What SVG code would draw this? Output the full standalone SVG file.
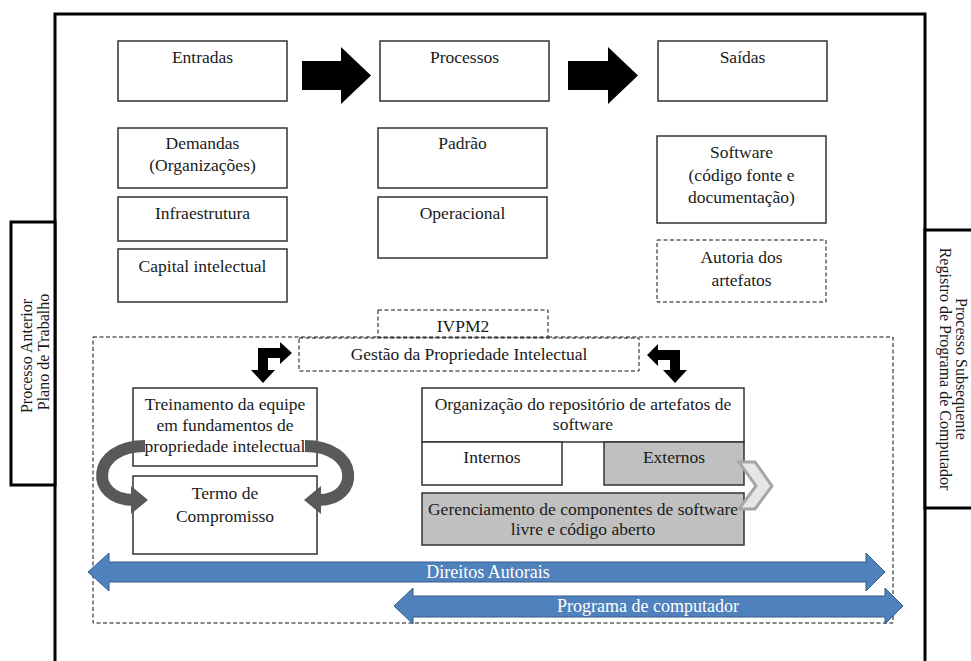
<svg xmlns="http://www.w3.org/2000/svg" width="971" height="661" viewBox="0 0 971 661">
<style>
  .box { fill: #ffffff; stroke: #333333; stroke-width: 1.5; }
  .gbox { fill: #c0c0c0; stroke: #333333; stroke-width: 1.5; }
  .dash { fill: #ffffff; stroke: #111111; stroke-width: 1; stroke-dasharray: 4 2.5; }
  .frame { fill: none; stroke: #000000; stroke-width: 3; }
  .side { fill: #ffffff; stroke: #000000; stroke-width: 3; }
  .t { font-family: "Liberation Serif", "Times New Roman", serif; font-size: 17.5px; fill: #1a1a1a; text-anchor: middle; }
  .v { font-family: "Liberation Serif", "Times New Roman", serif; font-size: 16px; fill: #1a1a1a; text-anchor: middle; }
  .w { font-family: "Liberation Serif", "Times New Roman", serif; font-size: 18px; fill: #ffffff; text-anchor: middle; }
  .blk { fill: #000000; }
  .blue { fill: #4f81bd; stroke: #385d8a; stroke-width: 1; }
  .curve { fill: none; stroke: #595959; stroke-width: 12; }
  .curvehead { fill: #595959; }
  .chev { fill: #e6e6e6; stroke: #a6a6a6; stroke-width: 3; }
</style>

<!-- outer frame -->
<g id="frame">
  <path class="frame" d="M55 664 L55 14 L925 14 L925 664"/>
</g>

<g id="processo-anterior">
  <rect class="side" x="11" y="222" width="44" height="263"/>
  <text class="v" x="32" y="356" transform="rotate(-90 32 356)">Processo Anterior</text>
  <text class="v" x="49" y="352" transform="rotate(-90 49 352)">Plano de Trabalho</text>
</g>

<g id="processo-subsequente">
  <rect class="side" x="925" y="230" width="52" height="278"/>
  <text class="v" x="956" y="369" transform="rotate(90 956 369)">Processo Subsequente</text>
  <text class="v" x="940" y="369" transform="rotate(90 940 369)">Registro de Programa de Computador</text>
</g>

<!-- top row -->
<g id="entradas">
  <rect class="box" x="118" y="41" width="169" height="60"/>
  <text class="t" x="202.5" y="63">Entradas</text>
</g>
<g id="processos">
  <rect class="box" x="380" y="41" width="169" height="60"/>
  <text class="t" x="464.5" y="63">Processos</text>
</g>
<g id="saidas">
  <rect class="box" x="658" y="41" width="169" height="60"/>
  <text class="t" x="742.5" y="63">Saídas</text>
</g>

<g id="demandas">
  <rect class="box" x="118" y="128" width="169" height="60"/>
  <text class="t" x="202.5" y="149">Demandas</text>
  <text class="t" x="202.5" y="171">(Organizações)</text>
</g>
<g id="infraestrutura">
  <rect class="box" x="118" y="197" width="169" height="44"/>
  <text class="t" x="202.5" y="219">Infraestrutura</text>
</g>
<g id="capital-intelectual">
  <rect class="box" x="118" y="249" width="169" height="53"/>
  <text class="t" x="202.5" y="272">Capital intelectual</text>
</g>

<g id="padrao">
  <rect class="box" x="378" y="128" width="169" height="60"/>
  <text class="t" x="462.5" y="149">Padrão</text>
</g>
<g id="operacional">
  <rect class="box" x="378" y="197" width="169" height="61"/>
  <text class="t" x="462.5" y="219">Operacional</text>
</g>

<g id="software">
  <rect class="box" x="657" y="136" width="169" height="87"/>
  <text class="t" x="741.5" y="158">Software</text>
  <text class="t" x="741.5" y="181">(código fonte e</text>
  <text class="t" x="741.5" y="203">documentação)</text>
</g>
<g id="autoria">
  <rect class="dash" x="657" y="240" width="169" height="62"/>
  <text class="t" x="741.5" y="263">Autoria dos</text>
  <text class="t" x="741.5" y="286">artefatos</text>
</g>

<!-- lower area -->
<g id="area-ivpm2">
  <rect class="dash" x="93" y="337" width="800" height="286"/>
</g>
<g id="ivpm2">
  <rect class="dash" x="378" y="310" width="170" height="27"/>
  <text class="t" x="463" y="332">IVPM2</text>
</g>
<g id="gestao">
  <rect class="dash" x="299" y="338" width="340" height="33"/>
  <text class="t" x="469" y="360">Gestão da Propriedade Intelectual</text>
</g>

<g id="treinamento">
  <rect class="box" x="133" y="388" width="184" height="78"/>
  <text class="t" x="225" y="410">Treinamento da equipe</text>
  <text class="t" x="225" y="431">em fundamentos de</text>
  <text class="t" x="225" y="452">propriedade intelectual</text>
</g>
<g id="termo">
  <rect class="box" x="133" y="476" width="184" height="78"/>
  <text class="t" x="225" y="499">Termo de</text>
  <text class="t" x="225" y="522">Compromisso</text>
</g>

<g id="organizacao">
  <rect class="box" x="422" y="388" width="322" height="54"/>
  <text class="t" x="583" y="410">Organização do repositório de artefatos de</text>
  <text class="t" x="583" y="430">software</text>
</g>
<g id="internos">
  <rect class="box" x="422" y="442" width="140" height="43"/>
  <text class="t" x="492" y="463">Internos</text>
</g>
<g id="externos">
  <rect class="gbox" x="604" y="442" width="140" height="43"/>
  <text class="t" x="674" y="463">Externos</text>
</g>
<g id="gerenciamento">
  <rect class="gbox" x="422" y="493" width="322" height="52"/>
  <text class="t" x="583" y="515">Gerenciamento de componentes de software</text>
  <text class="t" x="583" y="535">livre e código aberto</text>
</g>

<!-- connectors -->
<g id="connectors">
  <polygon class="blk" points="302,61 341,61 341,47 371,75.5 341,104 341,90 302,90"/>
  <polygon class="blk" points="568,61 608,61 608,47 638,75.5 608,104 608,90 568,90"/>
  <polygon class="blk" points="258,348 280,348 280,342 292,353 280,364 280,358 268,358 268,370 275,370 263,383 251,370 258,370"/>
  <polygon class="blk" points="680,350 658,350 658,344 647,355 658,366 658,360 670,360 670,370 663,370 675,383 687,370 680,370"/>
  <path class="curve" d="M145 446 C90 446, 90 500, 133 500"/>
  <polygon class="curvehead" points="131,486 148,500 131,514"/>
  <path class="curve" d="M305 446 C360 446, 360 500, 319 500"/>
  <polygon class="curvehead" points="321,486 304,500 321,514"/>
  <polygon class="chev" points="739,462 755,462 772,486 755,509 739,509 756,486"/>
</g>

<g id="direitos-autorais">
  <polygon class="blue" points="88,572 109,553 109,562 866,562 866,553 885,572 866,591 866,582 109,582 109,591"/>
  <text class="w" x="488" y="578">Direitos Autorais</text>
</g>
<g id="programa-de-computador">
  <polygon class="blue" points="394,606 413,588 413,596 885,596 885,588 903,606 885,624 885,617 413,617 413,624"/>
  <text class="w" x="648" y="612">Programa de computador</text>
</g>
</svg>
